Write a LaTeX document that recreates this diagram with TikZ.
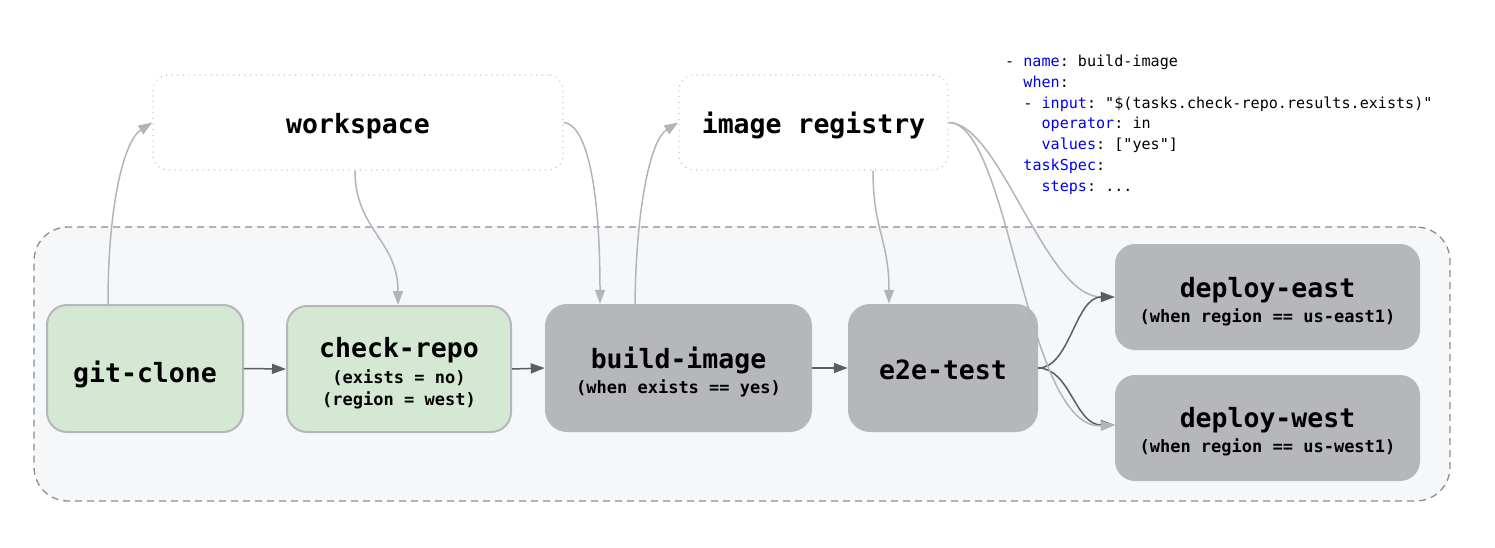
\documentclass[tikz,border=0pt]{standalone}
\usepackage{fontspec}
\setmonofont{DejaVu Sans Mono}[Ligatures=TeXOff]
\newfontfamily\dmono{DejaVu Sans Mono}[Ligatures=TeXOff]
\usetikzlibrary{arrows.meta}
\frenchspacing
\definecolor{greenfill}{HTML}{D5E8D4}
\definecolor{boxgray}{HTML}{B5B7BB}
\definecolor{bordergray}{HTML}{B3B6BB}
\definecolor{lightline}{HTML}{B1B4B9}
\definecolor{darkline}{HTML}{5A5D62}
\definecolor{contfill}{HTML}{F6F7F9}
\definecolor{contdash}{HTML}{8C8C8C}
\definecolor{dotgray}{HTML}{BBBBBB}
\definecolor{keyblue}{HTML}{0000EE}
\tikzset{
  greenbox/.style={rectangle, rounded corners=20pt, fill=greenfill, draw=bordergray, line width=2pt, inner sep=0pt},
  graybox/.style={rectangle, rounded corners=22pt, fill=boxgray, draw=none, inner sep=0pt},
  dotbox/.style={rectangle, rounded corners=15pt, fill=white, draw=dotgray, line width=1.4pt, dash pattern=on 0.01pt off 5.6pt, line cap=round, inner sep=0pt},
  container/.style={rectangle, rounded corners=34pt, fill=contfill, draw=contdash, line width=1.3pt, dash pattern=on 7pt off 5pt, inner sep=0pt},
  ttitle/.style={font=\dmono\bfseries\fontsize{26.5}{30}\selectfont\frenchspacing, anchor=base, inner sep=0pt, text=black},
  tsub/.style={font=\dmono\bfseries\fontsize{17}{20}\selectfont\frenchspacing, anchor=base, inner sep=0pt, text=black},
  codeline/.style={font=\dmono\fontsize{15.1}{18}\selectfont\frenchspacing, anchor=base west, inner sep=0pt, text=black},
  lightarrow/.style={draw=lightline, line width=1.5pt, -{Triangle[length=14pt,width=10pt]}},
  darkarrow/.style={draw=darkline, line width=1.5pt, -{Triangle[length=14pt,width=10pt]}}
}
\newcommand{\kw}[1]{{\color{keyblue}#1}}
\begin{document}
\begin{tikzpicture}[x=1pt,y=-1pt]
\useasboundingbox (0,0) rectangle (1495,548);

% container
\node[container, minimum width=1416pt, minimum height=274pt] (cont) at (742,364) {};

% top resource boxes
\node[dotbox, minimum width=410pt, minimum height=95pt] (ws) at (358,122.5) {};
\node[ttitle] (wst) at (358,134) {workspace};
\node[dotbox, minimum width=269pt, minimum height=95pt] (ir) at (813.5,122.5) {};
\node[ttitle] (irt) at (813.5,134) {image registry};

% tasks
\node[greenbox, minimum width=196pt, minimum height=127pt] (gc) at (145,368.5) {};
\node[ttitle] (gct) at (145,382) {git-clone};

\node[greenbox, minimum width=224pt, minimum height=126pt] (cr) at (399,369) {};
\node[ttitle] (crt) at (399,357) {check-repo};
\node[tsub] (crs1) at (399,383) {(exists = no)};
\node[tsub] (crs2) at (399,405) {(region = west)};

\node[graybox, minimum width=267pt, minimum height=128pt] (bi) at (678.5,368) {};
\node[ttitle] (bit) at (678.5,368) {build-image};
\node[tsub] (bis) at (678.5,393) {(when exists == yes)};

\node[graybox, minimum width=190pt, minimum height=128pt] (e2e) at (943,368) {};
\node[ttitle] (e2et) at (943,379) {e2e-test};

\node[graybox, rounded corners=20pt, minimum width=305pt, minimum height=106pt] (de) at (1267.5,297) {};
\node[ttitle] (det) at (1267.5,297) {deploy-east};
\node[tsub] (des) at (1267.5,322) {(when region == us-east1)};

\node[graybox, rounded corners=20pt, minimum width=305pt, minimum height=106pt] (dw) at (1267.5,428) {};
\node[ttitle] (dwt) at (1267.5,427) {deploy-west};
\node[tsub] (dws) at (1267.5,452) {(when region == us-west1)};

% code snippet
\node[codeline] (c1) at (1005,67) {- \kw{name}: build-image};
\node[codeline] (c2) at (1023.2,87.7) {\kw{when}:};
\node[codeline] (c3) at (1023.2,108.4) {- \kw{input}: "\$(tasks.check-repo.results.exists)"};
\node[codeline] (c4) at (1041.4,129) {\kw{operator}: in};
\node[codeline] (c5) at (1041.4,149.8) {\kw{values}: ["yes"]};
\node[codeline] (c6) at (1023.2,170.5) {\kw{taskSpec}:};
\node[codeline] (c7) at (1041.4,191.2) {\kw{steps}: ...};

% light connectors (resources)
\draw[lightarrow] ([xshift=-37pt]gc.north) .. controls (108,200) and (125,140) .. (ws.west);
\draw[lightarrow] ([xshift=-3pt]ws.south) .. controls (355,230) and (398,240) .. ([xshift=-1pt]cr.north);
\draw[lightarrow] (ws.east) .. controls (585,124) and (600,180) .. ([xshift=-78.5pt]bi.north);
\draw[lightarrow] ([xshift=-43.5pt]bi.north) .. controls (636,210) and (650,140) .. (ir.west);
\draw[lightarrow] ([xshift=59.5pt]ir.south) .. controls (873,230) and (889,240) .. ([xshift=-54pt]e2e.north);
\draw[lightarrow] (ir.east) .. controls (1000,123) and (1045,297) .. (de.west);

% dark connectors (task order)
\draw[darkarrow] (gc.east) -- (cr.west);
\draw[darkarrow] (cr.east) -- (bi.west);
\draw[darkarrow] (bi.east) -- (e2e.west);
\draw[darkarrow] (e2e.east) .. controls (1070,368) and (1075,297) .. (de.west);
\draw[darkarrow] (e2e.east) .. controls (1070,368) and (1075,425) .. ([yshift=3pt]dw.west);

\draw[lightarrow] (ir.east) .. controls (1010,123) and (1025,430) .. ([yshift=3pt]dw.west);
\end{tikzpicture}
\end{document}
